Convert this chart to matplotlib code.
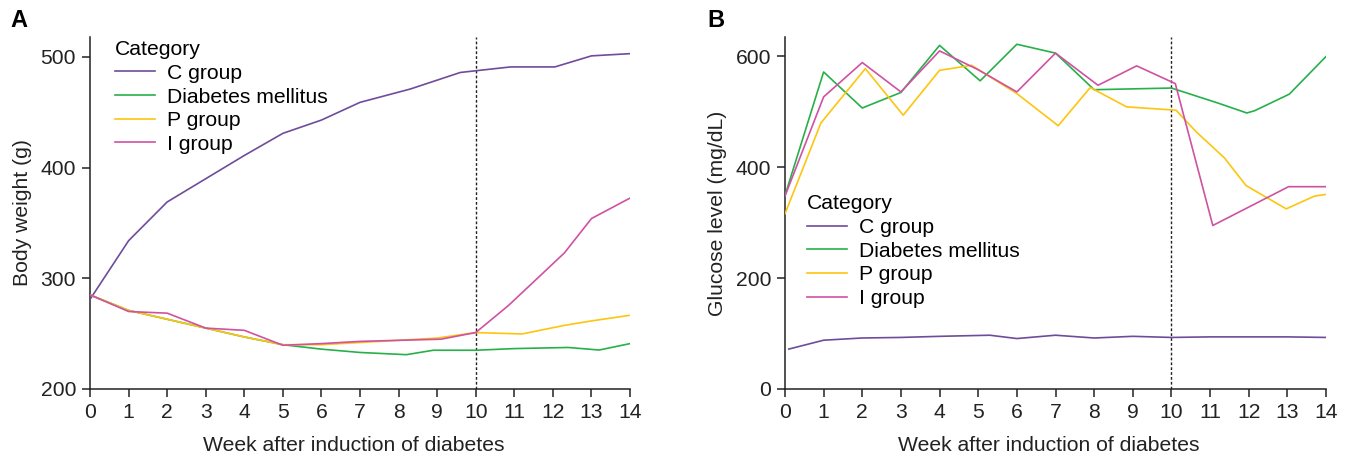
import matplotlib
matplotlib.use('Agg')
import matplotlib.pyplot as plt

plt.rcParams['font.family'] = ['Liberation Sans', 'DejaVu Sans']
plt.rcParams['font.size'] = 15.2

# ---------------- 数据 ----------------
groups = ['C group', 'Diabetes mellitus', 'P group', 'I group']
colors = ['#6f4c9b', '#27b04a', '#fdc50f', '#cf52a2']

# 图 A: 体重 (g)
wk_a_c = [0, 1, 2, 3, 4, 5, 6, 7, 8.3, 9.6, 10.9, 12.05, 13, 14]
bw_c = [281, 334, 369, 390, 411, 431, 443, 459, 471, 486, 491, 491, 501, 503]
wk_a_dm = [0, 1, 2, 3, 4, 5, 6, 7, 8.2, 8.9, 10, 11, 12.4, 13.2, 14]
bw_dm = [285, 271, 263, 255, 247, 240, 236, 233, 231, 235, 235, 236.5, 237.5, 235.2, 241]
wk_a_p = [0, 1, 2, 3, 4, 5, 6, 7, 9, 10, 11.2, 12.3, 13, 14]
bw_p = [285, 271, 263, 255, 247, 240, 240, 242, 246, 251, 249.7, 257.5, 261.5, 266.6]
wk_a_i = [0, 1, 2, 3, 4, 5, 6, 7, 9.1, 10, 10.85, 12.3, 13, 14]
bw_i = [285, 270, 268.5, 255, 253, 239.5, 241, 243, 245, 251, 275.5, 323, 354, 372.5]

# 图 B: 血糖 (mg/dL)
wk_b_c = [0.1, 1, 2, 3, 4, 5.3, 6, 7, 8, 9, 10, 11, 12, 13, 14]
glu_c = [72, 88, 92, 93, 95, 97, 91, 97, 92, 95, 93, 94, 94, 94, 93]
wk_b_dm = [0, 1, 2, 3, 4, 5.05, 6, 7, 8, 10, 11.2, 11.95, 12.15, 13.05, 14]
glu_dm = [349, 572, 507, 535, 620, 556, 622, 606, 540, 543, 516, 498, 502, 532, 600]
wk_b_p = [0, 0.93, 2.08, 3.06, 4, 4.83, 6, 7.07, 7.9, 8.84, 10.12, 10.64, 11.37, 11.93, 12.97, 13.7, 14]
glu_p = [316, 480, 578, 494, 575, 584, 533, 475, 544, 509, 503, 464, 417, 367, 325, 348, 351]
wk_b_i = [0, 1, 2, 3, 4, 5, 6, 7, 8.1, 9.1, 10.1, 11.07, 13.03, 14]
glu_i = [348, 527, 589, 536, 610, 576, 536, 606, 548, 583, 551, 295, 365, 365]

series_a = [(wk_a_c, bw_c), (wk_a_dm, bw_dm), (wk_a_p, bw_p), (wk_a_i, bw_i)]
series_b = [(wk_b_c, glu_c), (wk_b_dm, glu_dm), (wk_b_p, glu_p), (wk_b_i, glu_i)]

fig = plt.figure(figsize=(13.52, 4.58), dpi=100)
ax1 = fig.add_axes([0.0666, 0.1507, 0.3994, 0.7684])
ax2 = fig.add_axes([0.5806, 0.1507, 0.4002, 0.7684])


def style_axis(ax, ylabel, ylim, yticks):
    ax.set_xlim(0, 14)
    ax.set_ylim(*ylim)
    ax.set_xticks(range(0, 15))
    ax.set_yticks(yticks)
    ax.set_xlabel('Week after induction of diabetes', color='#222222', labelpad=9)
    ax.xaxis.set_label_coords(0.488, -0.135)
    ax.set_ylabel(ylabel, color='#222222', labelpad=6)
    for s in ['top', 'right']:
        ax.spines[s].set_visible(False)
    for s in ['left', 'bottom']:
        ax.spines[s].set_linewidth(1.1)
        ax.spines[s].set_color('#222222')
    ax.tick_params(direction='out', length=6, width=1.1, colors='#222222',
                   labelsize=15.2, pad=4)
    ax.axvline(10, color='#222222', linestyle=(0, (2, 1.5)), linewidth=1.0, zorder=1)


def add_legend(ax, x_anchor, y_anchor):
    leg = ax.legend(title='Category', loc='upper left', bbox_to_anchor=(x_anchor, y_anchor),
                    frameon=False, fontsize=15.2, title_fontsize=15.2, handlelength=1.9,
                    handletextpad=0.55, labelspacing=0.22, borderaxespad=0.2,
                    borderpad=0.2)
    leg._legend_box.align = 'left'
    return leg


for (x, y), lab, c in zip(series_a, groups, colors):
    ax1.plot(x, y, color=c, linewidth=1.2, label=lab, zorder=3)
style_axis(ax1, 'Body weight (g)', (200, 518), [200, 300, 400, 500])
add_legend(ax1, 0.031, 1.015)

for (x, y), lab, c in zip(series_b, groups, colors):
    ax2.plot(x, y, color=c, linewidth=1.2, label=lab, zorder=3)
style_axis(ax2, 'Glucose level (mg/dL)', (0, 635), [0, 200, 400, 600])
add_legend(ax2, 0.025, 0.577)

fig.text(0.008, 0.955, 'A', fontsize=17, fontweight='bold', va='center')
fig.text(0.523, 0.955, 'B', fontsize=17, fontweight='bold', va='center')

fig.savefig('out.png', dpi=100)
